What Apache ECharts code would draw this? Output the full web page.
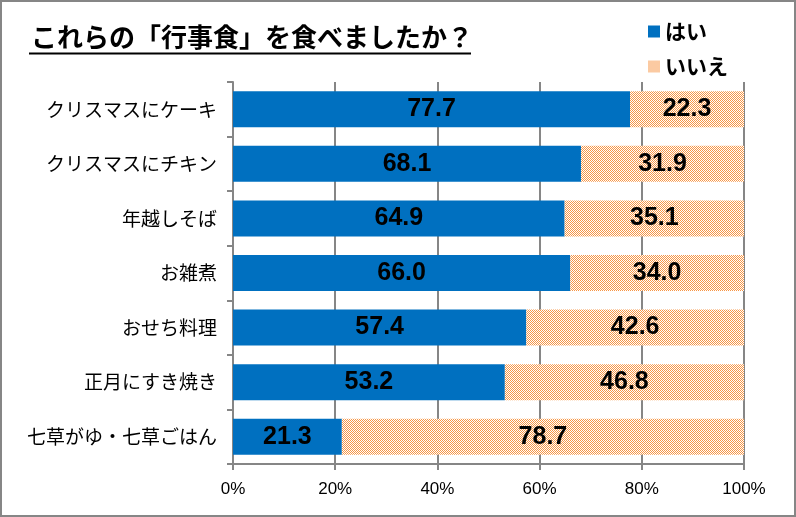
<!DOCTYPE html>
<html><head><meta charset="utf-8">
<script src="https://cdn.jsdelivr.net/npm/echarts@6/dist/echarts.min.js"></script>
<style>html,body{margin:0;padding:0;background:#fff}#c{width:796px;height:517px}</style>
</head><body><div id="c"></div>
<script>
const categories = ["クリスマスにケーキ","クリスマスにチキン","年越しそば","お雑煮","おせち料理","正月にすき焼き","七草がゆ・七草ごはん"];
const yesValues = [77.7, 68.1, 64.9, 66.0, 57.4, 53.2, 21.3];
const noValues = [22.3, 31.9, 35.1, 34.0, 42.6, 46.8, 78.7];
const seriesNames = ["はい","いいえ"];
const titleText = "これらの「行事食」を食べましたか？";

const pc = document.createElement('canvas');
pc.width = 2; pc.height = 2;
const pctx = pc.getContext('2d');
pctx.fillStyle = '#ffffff'; pctx.fillRect(0,0,2,2);
pctx.fillStyle = '#F79646'; pctx.fillRect(0,0,1,1); pctx.fillRect(1,1,1,1);
const orangePattern = {image: pc, repeat: 'repeat'};

const jp = '"Noto Sans CJK JP", sans-serif';
const chart = echarts.init(document.getElementById('c'), null, {renderer:'canvas'});
const labelStyle = {show:true, position:'inside', color:'#000', fontWeight:'bold', fontSize:25, fontFamily:'"Liberation Sans", sans-serif', formatter: p => p.value.toFixed(1)};
chart.setOption({
  animation:false,
  title:{text:titleText, left:26, top:19, textStyle:{fontFamily:jp, fontSize:26, fontWeight:'bold', color:'#000'}},
  legend:{orient:'vertical', left:643, top:16, itemGap:14, itemWidth:12, itemHeight:12, icon:'rect',
    textStyle:{fontFamily:jp, fontSize:21, fontWeight:'bold', color:'#000'}, data:seriesNames},
  grid:{left:233, right:52, top:82, bottom:53},
  xAxis:{type:'value', min:0, max:100, interval:20,
    axisLabel:{formatter:'{value}%', color:'#000', fontSize:17, fontFamily:'"Liberation Sans", sans-serif', margin:17},
    axisLine:{show:true, lineStyle:{color:'#868686', width:2}},
    axisTick:{show:true, length:6, lineStyle:{color:'#868686', width:2}},
    splitLine:{show:true, lineStyle:{color:'#868686', width:2}}},
  yAxis:{type:'category', data:categories, inverse:true,
    axisLabel:{color:'#000', fontSize:19, fontFamily:jp, margin:16},
    axisLine:{show:true, lineStyle:{color:'#868686', width:2}},
    axisTick:{show:true, length:6, alignWithLabel:false, lineStyle:{color:'#868686', width:2}}},
  series:[
    {name:seriesNames[0], type:'bar', stack:'a', data:yesValues, barWidth:'66%', itemStyle:{color:'#0070C0'}, label:labelStyle},
    {name:seriesNames[1], type:'bar', stack:'a', data:noValues, barWidth:'66%', itemStyle:{color:orangePattern}, label:labelStyle}
  ],
  graphic:[
    {type:'line', shape:{x1:29, y1:53.5, x2:471, y2:53.5}, style:{stroke:'#000', lineWidth:2}},
    {type:'rect', shape:{x:1, y:1, width:794, height:515}, style:{fill:'none', stroke:'#868686', lineWidth:2}}
  ]
});
</script></body></html>
